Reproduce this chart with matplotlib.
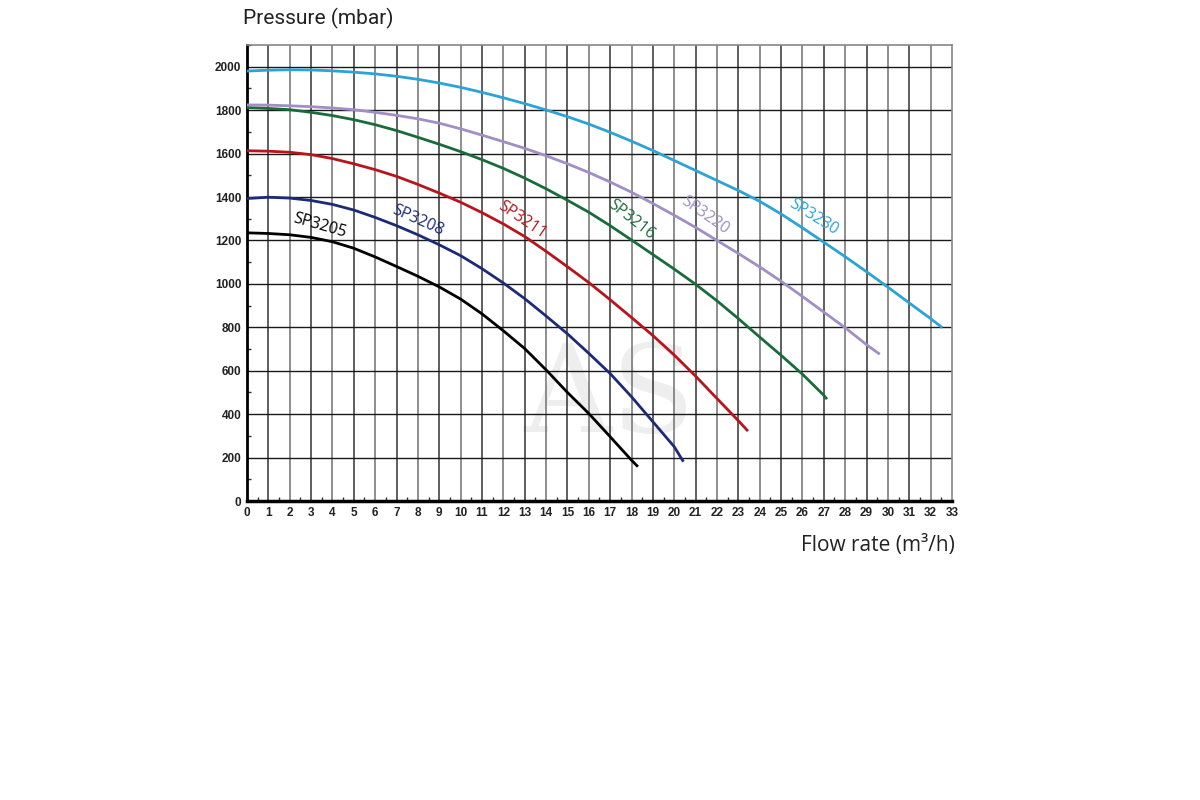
import numpy as np
import matplotlib
matplotlib.use("Agg")
import matplotlib.pyplot as plt
from matplotlib.ticker import MultipleLocator

# flow rate (m3/h) and pressure (mbar)
q_3205 = [0, 1, 2, 3, 4, 5, 6, 7, 8, 9, 10, 11, 12, 13, 14, 15, 16, 17, 18, 18.3]
p_3205 = [1235, 1232, 1226, 1214, 1194, 1164, 1124, 1080, 1035, 986, 930, 862,
          784, 702, 604, 500, 403, 296, 188, 158]

q_3208 = [0, 1, 2, 3, 4, 5, 6, 7, 8, 9, 10, 11, 12, 13, 14, 15, 16, 17, 18, 19,
          20, 20.43]
p_3208 = [1393, 1399, 1395, 1384, 1366, 1340, 1306, 1268, 1226, 1180, 1130, 1070,
          1004, 932, 852, 770, 680, 587, 480, 365, 250, 181]

q_3211 = [0, 1, 2, 3, 4, 5, 6, 7, 8, 9, 10, 11, 12, 13, 14, 15, 16, 17, 18, 19,
          20, 21, 22, 23, 23.45]
p_3211 = [1613, 1611, 1606, 1595, 1577, 1553, 1526, 1495, 1458, 1418, 1376, 1328,
          1276, 1218, 1150, 1079, 1006, 927, 845, 762, 672, 575, 472, 370, 322]

q_3216 = [0, 1, 2, 3, 4, 5, 6, 7, 8, 9, 10, 11, 12, 13, 14, 15, 16, 17, 18, 19,
          20, 21, 22, 23, 24, 25, 26, 27, 27.15]
p_3216 = [1812, 1808, 1802, 1790, 1775, 1756, 1733, 1706, 1675, 1643, 1609, 1572,
          1532, 1487, 1438, 1385, 1330, 1268, 1202, 1135, 1068, 998, 922, 840,
          755, 671, 584, 487, 469]

q_3220 = [0, 1, 2, 3, 4, 5, 6, 7, 8, 9, 10, 11, 12, 13, 14, 15, 16, 17, 18, 19,
          20, 21, 22, 23, 24, 25, 26, 27, 28, 29, 29.62]
p_3220 = [1824, 1823, 1820, 1816, 1810, 1802, 1790, 1776, 1760, 1740, 1714, 1685,
          1655, 1624, 1590, 1553, 1513, 1469, 1422, 1370, 1316, 1260, 1200, 1140,
          1078, 1012, 942, 870, 798, 720, 676]

q_3230 = [0, 1, 2, 3, 4, 5, 6, 7, 8, 9, 10, 11, 12, 13, 14, 15, 16, 17, 18, 19,
          20, 21, 22, 23, 24, 25, 26, 27, 28, 29, 30, 31, 32, 32.55]
p_3230 = [1980, 1984, 1986, 1985, 1981, 1975, 1967, 1956, 1942, 1925, 1905, 1882,
          1857, 1830, 1801, 1770, 1736, 1698, 1657, 1614, 1568, 1522, 1476, 1430,
          1380, 1322, 1258, 1192, 1125, 1056, 985, 912, 840, 798]

names = ["SP3205", "SP3208", "SP3211", "SP3216", "SP3220", "SP3230"]
colors = ["#000000", "#1c2a78", "#b8141c", "#1a6b3c", "#a08ec4", "#2ba3d6"]

# label anchor (flow, pressure) and rotation
label_pos = [(3.4, 1268), (8.0, 1294), (12.9, 1292), (18.0, 1296), (21.45, 1314), (26.5, 1308)]
label_rot = [-16, -24, -34, -38, -35, -32]

fig = plt.figure(figsize=(12, 8), dpi=100)
ax = fig.add_axes([0.2058, 0.37375, 0.5875, 0.57])

ax.set_xlim(0, 33)
ax.set_ylim(0, 2100)

# grid
for xv in range(1, 33):
    ax.axvline(xv, color="#333333" if xv % 2 else "#707070", lw=1.1, zorder=1)
for yv in range(200, 2001, 200):
    ax.axhline(yv, color="#1a1a1a", lw=1.0, zorder=1)

# watermark
ax.text(17.0, 470, "AS", fontsize=88, family="DejaVu Serif", color="#eeeeee",
        ha="center", va="center", zorder=0.5)

curves = [(q_3205, p_3205), (q_3208, p_3208), (q_3211, p_3211),
          (q_3216, p_3216), (q_3220, p_3220), (q_3230, p_3230)]
for (q, p), c in zip(curves, colors):
    ax.plot(q, p, color=c, lw=2.0, zorder=3, solid_capstyle="butt")

for name, c, (lx, ly), rot in zip(names, colors, label_pos, label_rot):
    ax.text(lx, ly, name, color=c, fontsize=11.5, family="Open Sans",
            rotation=rot, rotation_mode="anchor", ha="center", va="center", zorder=4)

ax.xaxis.set_major_locator(MultipleLocator(1))
ax.xaxis.set_minor_locator(MultipleLocator(0.5))
ax.yaxis.set_major_locator(MultipleLocator(200))
ax.yaxis.set_minor_locator(MultipleLocator(100))
ax.tick_params(axis="both", which="major", length=0, labelsize=8.5, pad=4)
ax.tick_params(axis="both", which="minor", direction="in", length=3, width=1, color="#333333")
for lab in ax.get_xticklabels() + ax.get_yticklabels():
    lab.set_family("Liberation Sans")
    lab.set_fontweight("bold")
    lab.set_color("#222222")

ax.spines["left"].set_linewidth(2)
ax.spines["bottom"].set_linewidth(2.5)
ax.spines["top"].set_color("#888888")
ax.spines["right"].set_color("#888888")
ax.spines["top"].set_linewidth(1.2)
ax.spines["right"].set_linewidth(1.2)

fig.text(0.2025, 0.977, "Pressure (mbar)", fontsize=15, family="Roboto",
         ha="left", va="center", color="#222222")
fig.text(0.796, 0.318, "Flow rate (m³/h)", fontsize=15, family="Open Sans",
         ha="right", va="center", color="#222222")

fig.savefig("out.png", dpi=100, facecolor="white")
